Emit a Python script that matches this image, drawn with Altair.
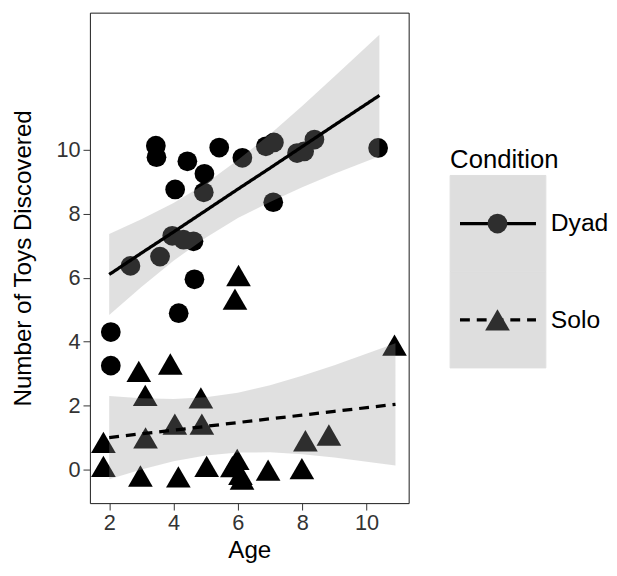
import altair as alt
import pandas as pd

# ---- data ----
conditions = ["Dyad", "Solo"]

dyad_age = [2.05, 2.05, 2.66, 3.45, 3.47, 3.58, 4.05, 3.96, 4.31, 4.62, 4.43, 4.96,
            4.94, 5.42, 6.14, 4.65, 4.16, 6.87, 7.12, 7.10, 7.84, 8.06, 8.38, 10.36]
dyad_toys = [4.30, 3.25, 6.37, 10.13, 9.77, 6.66, 8.76, 7.31, 7.19, 7.14, 9.64, 9.25,
             8.67, 10.07, 9.75, 5.95, 4.89, 10.11, 10.23, 8.36, 9.90, 9.95, 10.32, 10.06]

solo_age = [1.82, 1.82, 2.92, 3.12, 3.13, 2.97, 3.90, 4.04, 4.15, 4.85, 4.88, 5.03,
            6.02, 5.91, 5.83, 5.98, 6.08, 6.13, 6.94, 7.99, 8.10, 8.83, 10.87]
solo_toys = [0.85, 0.10, 3.07, 2.32, 0.99, -0.20, 3.30, 1.42, -0.23, 2.24, 1.42, 0.10,
             6.07, 5.33, 0.09, 0.32, -0.15, -0.30, -0.02, 0.03, 0.90, 1.08, 3.89]

# fitted lines and 95% bands, read at a few ages
dyad_fit_age = [2.0, 3.0, 4.0, 5.0, 6.0, 7.0, 8.0, 9.0, 10.4]
dyad_fit = [6.10, 6.77, 7.43, 8.10, 8.77, 9.43, 10.10, 10.77, 11.70]
dyad_lo = [4.83, 5.71, 6.53, 7.25, 7.87, 8.37, 8.83, 9.25, 9.80]
dyad_hi = [7.37, 7.83, 8.34, 8.95, 9.68, 10.49, 11.37, 12.29, 13.60]

solo_fit_age = [2.0, 3.0, 4.0, 5.0, 6.0, 7.0, 8.0, 9.0, 10.9]
solo_fit = [1.00, 1.12, 1.23, 1.35, 1.47, 1.59, 1.70, 1.82, 2.04]
solo_lo = [-0.30, 0.00, 0.26, 0.44, 0.53, 0.54, 0.48, 0.38, 0.13]
solo_hi = [2.30, 2.23, 2.21, 2.26, 2.40, 2.64, 2.93, 3.26, 3.95]

x_ticks = [2, 4, 6, 8, 10]
y_ticks = [0, 2, 4, 6, 8, 10]

# ---- tables ----
pts = pd.concat([
    pd.DataFrame({"Age": dyad_age, "Toys": dyad_toys, "Condition": "Dyad"}),
    pd.DataFrame({"Age": solo_age, "Toys": solo_toys, "Condition": "Solo"}),
], ignore_index=True)

fit = pd.concat([
    pd.DataFrame({"Age": dyad_fit_age, "Fit": dyad_fit, "Lo": dyad_lo, "Hi": dyad_hi, "Condition": "Dyad"}),
    pd.DataFrame({"Age": solo_fit_age, "Fit": solo_fit, "Lo": solo_lo, "Hi": solo_hi, "Condition": "Solo"}),
], ignore_index=True)

leg = pd.DataFrame({"Condition": conditions})

FONT = "Liberation Sans"
x_scale = alt.Scale(domain=[1.40, 11.31], nice=False, zero=False)
y_scale = alt.Scale(domain=[-1.05, 14.29], nice=False, zero=False)
shape_scale = alt.Scale(domain=conditions, range=["circle", "triangle-up"])
size_scale = alt.Scale(domain=conditions, range=[400, 625])
dash_scale = alt.Scale(domain=conditions, range=[[1, 0], [10, 7]])

x_axis = alt.Axis(values=x_ticks, title="Age")
y_axis = alt.Axis(values=y_ticks, title="Number of Toys Discovered")

points = alt.Chart(pts).mark_point(filled=True, opacity=1, strokeWidth=0, color="black").encode(
    x=alt.X("Age:Q", scale=x_scale, axis=x_axis),
    y=alt.Y("Toys:Q", scale=y_scale, axis=y_axis),
    shape=alt.Shape("Condition:N", scale=shape_scale, legend=None),
    size=alt.Size("Condition:N", scale=size_scale, legend=None),
)

band = alt.Chart(fit).mark_area(color="#999999", opacity=0.3).encode(
    x=alt.X("Age:Q", scale=x_scale, title="Age"),
    y=alt.Y("Lo:Q", scale=y_scale, title="Number of Toys Discovered"),
    y2="Hi:Q",
    detail="Condition:N",
)

line = alt.Chart(fit).mark_line(color="black", strokeWidth=3.3).encode(
    x=alt.X("Age:Q", scale=x_scale, title="Age"),
    y=alt.Y("Fit:Q", scale=y_scale, title="Number of Toys Discovered"),
    strokeDash=alt.StrokeDash("Condition:N", scale=dash_scale, legend=None),
    detail="Condition:N",
)

main = alt.layer(points, band, line).properties(
    width=323, height=497,
    view=alt.ViewBackground(stroke="#1a1a1a", strokeWidth=1),
)

# ---- legend panel ----
LW = 97
yband = alt.Scale(type="band", domain=conditions, paddingInner=0, paddingOuter=0.846, align=1)

def ly(pos=0.5):
    return alt.Y("Condition:N", scale=yband, axis=None, bandPosition=pos)

key_bg = alt.Chart(leg).mark_rect(color="#DEDEDE", stroke="#DEDEDE", strokeWidth=1).encode(
    y=alt.Y("Condition:N", scale=yband, axis=None),
    x=alt.value(0), x2=alt.value(LW),
)
key_line = alt.Chart(leg).mark_rule(color="black", strokeWidth=3.3).encode(
    y=ly(), x=alt.value(10), x2=alt.value(87),
    strokeDash=alt.StrokeDash("Condition:N", scale=dash_scale, legend=None),
)
key_pt = alt.Chart(leg).mark_point(filled=True, opacity=1, strokeWidth=0, color="#2e2e2e").encode(
    y=ly(), x=alt.value(48),
    shape=alt.Shape("Condition:N", scale=shape_scale, legend=None),
    size=alt.Size("Condition:N", scale=size_scale, legend=None),
)
key_lab = alt.Chart(leg).mark_text(align="left", baseline="middle", fontSize=25, font=FONT,
                                   color="black", dx=5).encode(
    y=ly(), x=alt.value(LW), text="Condition:N",
)
key_title = alt.Chart(leg).mark_text(align="left", baseline="alphabetic", fontSize=26, font=FONT,
                                     color="black", dy=-8).encode(
    y=ly(0), x=alt.value(0), text=alt.value("Condition"),
).transform_filter(alt.datum.Condition == "Dyad")

legend = alt.layer(key_bg, key_line, key_pt, key_lab, key_title).properties(
    width=LW, height=360,
    view=alt.ViewBackground(strokeWidth=0),
)

chart = alt.hconcat(main, legend, spacing=42, bounds="flush").properties(
    padding={"left": 2, "top": 0, "right": 0, "bottom": 0},
).configure_axis(
    grid=False,
    domain=False,
    labelFont=FONT, labelFontSize=22, labelColor="#333333",
    tickColor="#333333", tickSize=7, tickWidth=1, labelPadding=3,
    titleFont=FONT, titleFontSize=24.5, titleColor="black", titleFontWeight="normal",
).configure_axisX(titlePadding=5).configure_axisY(titlePadding=21)

chart.save("out.html", embed_options={"renderer": "svg", "actions": False})
